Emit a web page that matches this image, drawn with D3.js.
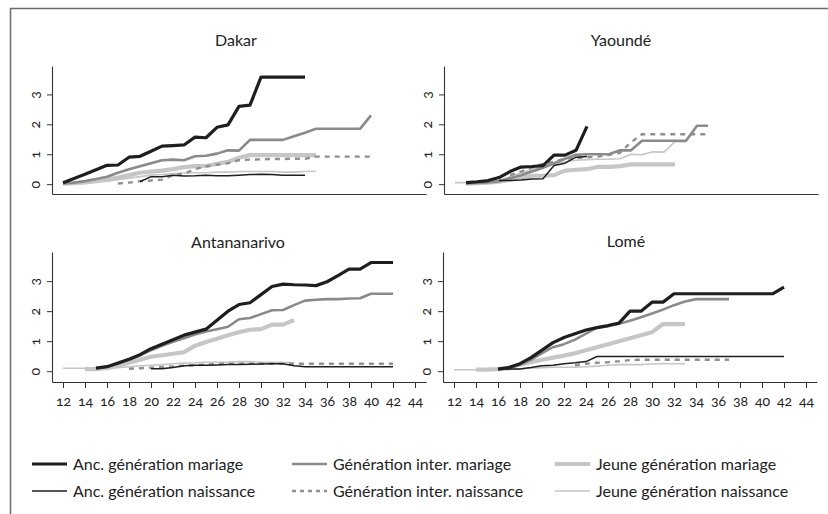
<!DOCTYPE html>
<html><head><meta charset="utf-8">
<script src="https://cdn.jsdelivr.net/npm/d3@7"></script>
<style>
body{margin:0;background:#fff}
svg{display:block}
text{font-family:Lato,"Open Sans",sans-serif;fill:#222}
.num{font-variant-numeric:oldstyle-nums;font-feature-settings:"onum" 1}
</style>
</head><body><svg id="c" width="828" height="514"></svg>
<script>
// ---------- DATA ----------
const cities = ["Dakar","Yaoundé","Antananarivo","Lomé"];
const seriesNames = ["Anc. génération mariage","Génération inter. mariage","Jeune génération mariage",
                     "Anc. génération naissance","Génération inter. naissance","Jeune génération naissance"];
const xTicks = [12,14,16,18,20,22,24,26,28,30,32,34,36,38,40,42,44];
const yTicks = [0,1,2,3];

// each series: first age, then one value per year of age
const dakarAncMarStart = 12;
const dakarAncMar = [0.05,0.19,0.33,0.48,0.63,0.64,0.9,0.93,1.1,1.27,1.29,1.31,1.57,1.55,1.9,1.98,2.6,2.64,3.58,3.58,3.58,3.58,3.58];
const dakarInterMarStart = 12;
const dakarInterMar = [0.02,0.05,0.1,0.17,0.25,0.38,0.5,0.6,0.7,0.8,0.82,0.8,0.93,0.95,1.02,1.13,1.12,1.48,1.48,1.48,1.48,1.6,1.72,1.85,1.85,1.85,1.85,1.85,2.3];
const dakarJeuneMarStart = 12;
const dakarJeuneMar = [0.02,0.03,0.06,0.1,0.15,0.22,0.3,0.38,0.42,0.45,0.5,0.57,0.6,0.6,0.68,0.75,0.88,0.97,0.97,0.97,0.97,0.97,0.97,0.97];
const dakarAncNaiStart = 19;
const dakarAncNai = [0.08,0.25,0.25,0.3,0.27,0.28,0.3,0.28,0.28,0.3,0.32,0.33,0.32,0.3,0.3,0.3];
const dakarInterNaiStart = 17;
const dakarInterNai = [0.02,0.05,0.1,0.12,0.15,0.3,0.35,0.5,0.6,0.65,0.7,0.8,0.82,0.83,0.84,0.84,0.85,0.85,0.92,0.92,0.92,0.92,0.92,0.92];
const dakarJeuneNaiStart = 12;
const dakarJeuneNai = [0.02,0.03,0.05,0.08,0.1,0.15,0.2,0.25,0.3,0.32,0.35,0.37,0.38,0.38,0.4,0.4,0.42,0.42,0.42,0.42,0.4,0.4,0.42,0.43];

const yaoAncMarStart = 13;
const yaoAncMar = [0.05,0.08,0.12,0.22,0.42,0.57,0.59,0.62,0.97,0.97,1.13,1.93];
const yaoInterMarStart = 13;
const yaoInterMar = [0.02,0.04,0.06,0.1,0.2,0.3,0.42,0.55,0.7,0.85,0.98,1.0,1.0,1.0,1.13,1.13,1.45,1.45,1.45,1.45,1.45,1.95,1.95];
const yaoJeuneMarStart = 13;
const yaoJeuneMar = [0.02,0.03,0.05,0.08,0.15,0.22,0.28,0.28,0.3,0.45,0.48,0.5,0.58,0.58,0.6,0.66,0.66,0.66,0.66,0.66];
const yaoAncNaiStart = 16;
const yaoAncNai = [0.12,0.12,0.14,0.17,0.18,0.62,0.7,0.9,0.92];
const yaoInterNaiStart = 17;
const yaoInterNai = [0.3,0.42,0.55,0.68,0.75,0.85,0.88,0.9,0.92,0.98,1.05,1.4,1.67,1.67,1.67,1.67,1.67,1.67,1.67];
const yaoJeuneNaiStart = 12;
const yaoJeuneNai = [0.05,0.05,0.06,0.08,0.12,0.25,0.38,0.48,0.6,0.68,0.75,0.8,0.82,0.83,0.83,0.85,1.0,0.98,1.08,1.07,1.42,1.42];

const tanaAncMarStart = 15;
const tanaAncMar = [0.1,0.15,0.27,0.4,0.55,0.75,0.9,1.05,1.2,1.3,1.4,1.7,2.0,2.22,2.28,2.55,2.82,2.9,2.88,2.87,2.85,2.98,3.18,3.4,3.4,3.62,3.62,3.62];
const tanaInterMarStart = 15;
const tanaInterMar = [0.1,0.15,0.25,0.38,0.52,0.7,0.85,0.98,1.1,1.22,1.32,1.4,1.48,1.73,1.77,1.9,2.03,2.04,2.2,2.35,2.38,2.4,2.4,2.42,2.43,2.58,2.58,2.58];
const tanaJeuneMarStart = 14;
const tanaJeuneMar = [0.07,0.07,0.1,0.18,0.28,0.38,0.48,0.53,0.58,0.63,0.85,0.97,1.08,1.2,1.3,1.38,1.4,1.55,1.55,1.7];
const tanaAncNaiStart = 20;
const tanaAncNai = [0.08,0.08,0.12,0.18,0.2,0.2,0.21,0.22,0.22,0.23,0.24,0.25,0.25,0.18,0.15,0.15,0.15,0.15,0.15,0.15,0.15,0.15,0.15];
const tanaInterNaiStart = 18;
const tanaInterNai = [0.08,0.1,0.12,0.14,0.16,0.18,0.2,0.22,0.24,0.25,0.25,0.25,0.25,0.25,0.25,0.25,0.25,0.25,0.25,0.25,0.25,0.25,0.25,0.25,0.25];
const tanaJeuneNaiStart = 12;
const tanaJeuneNai = [0.1,0.1,0.1,0.1,0.1,0.12,0.15,0.18,0.2,0.22,0.25,0.27,0.28,0.3,0.3,0.3,0.32,0.32,0.3,0.3,0.3,0.28];

const lomeAncMarStart = 16;
const lomeAncMar = [0.07,0.12,0.25,0.45,0.7,0.95,1.12,1.25,1.37,1.45,1.52,1.6,2.0,2.0,2.3,2.3,2.58,2.58,2.58,2.58,2.58,2.58,2.58,2.58,2.58,2.58,2.8];
const lomeInterMarStart = 16;
const lomeInterMar = [0.07,0.1,0.22,0.38,0.6,0.8,0.9,1.05,1.25,1.45,1.5,1.58,1.68,1.8,1.92,2.05,2.2,2.32,2.4,2.4,2.4,2.4];
const lomeJeuneMarStart = 14;
const lomeJeuneMar = [0.05,0.05,0.07,0.12,0.22,0.3,0.38,0.45,0.52,0.6,0.7,0.8,0.9,1.0,1.1,1.2,1.3,1.57,1.57,1.57];
const lomeAncNaiStart = 16;
const lomeAncNai = [0.07,0.07,0.07,0.12,0.18,0.2,0.25,0.28,0.32,0.49,0.49,0.49,0.49,0.49,0.49,0.49,0.49,0.49,0.49,0.49,0.49,0.49,0.49,0.49,0.49,0.49,0.49];
const lomeInterNaiStart = 23;
const lomeInterNai = [0.2,0.25,0.28,0.3,0.33,0.37,0.38,0.38,0.38,0.38,0.38,0.38,0.38,0.38,0.38];
const lomeJeuneNaiStart = 12;
const lomeJeuneNai = [0.05,0.05,0.05,0.05,0.05,0.05,0.08,0.1,0.12,0.13,0.13,0.13,0.15,0.17,0.2,0.22,0.22,0.22,0.24,0.25,0.25,0.25];

// ---------- STYLES ----------
const styles = [
  {color:"#1e1e1e", width:3.2, dash:null},   // Anc. mariage
  {color:"#8a8a8a", width:2.6, dash:null},   // Inter mariage
  {color:"#c6c6c6", width:4.2, dash:null},   // Jeune mariage
  {color:"#1e1e1e", width:1.5, dash:null},   // Anc. naissance
  {color:"#8f8f8f", width:2.4, dash:"5,5"},  // Inter naissance
  {color:"#c6c6c6", width:1.6, dash:null}    // Jeune naissance
];
const drawOrder = [2,5,4,1,3,0];

const cityData = [
  [[dakarAncMarStart,dakarAncMar],[dakarInterMarStart,dakarInterMar],[dakarJeuneMarStart,dakarJeuneMar],[dakarAncNaiStart,dakarAncNai],[dakarInterNaiStart,dakarInterNai],[dakarJeuneNaiStart,dakarJeuneNai]],
  [[yaoAncMarStart,yaoAncMar],[yaoInterMarStart,yaoInterMar],[yaoJeuneMarStart,yaoJeuneMar],[yaoAncNaiStart,yaoAncNai],[yaoInterNaiStart,yaoInterNai],[yaoJeuneNaiStart,yaoJeuneNai]],
  [[tanaAncMarStart,tanaAncMar],[tanaInterMarStart,tanaInterMar],[tanaJeuneMarStart,tanaJeuneMar],[tanaAncNaiStart,tanaAncNai],[tanaInterNaiStart,tanaInterNai],[tanaJeuneNaiStart,tanaJeuneNai]],
  [[lomeAncMarStart,lomeAncMar],[lomeInterMarStart,lomeInterMar],[lomeJeuneMarStart,lomeJeuneMar],[lomeAncNaiStart,lomeAncNai],[lomeInterNaiStart,lomeInterNai],[lomeJeuneNaiStart,lomeJeuneNai]]
];

// ---------- LAYOUT ----------
const panels = [
  {left:52,  top:66,  bottom:194, yMin:-0.33, yMax:3.95, xLabels:false, titleX:236, titleY:46},
  {left:444, top:66,  bottom:194, yMin:-0.33, yMax:3.95, xLabels:false, titleX:621, titleY:46},
  {left:52,  top:252, bottom:382, yMin:-0.36, yMax:3.97, xLabels:true,  titleX:238, titleY:248},
  {left:443, top:252, bottom:382, yMin:-0.36, yMax:3.97, xLabels:true,  titleX:626, titleY:247}
];

const svg = d3.select("#c");

// frame
svg.append("path").attr("d","M10.5,514 V8.5 H828")
  .attr("fill","none").attr("stroke","#6a6a6a").attr("stroke-width",1.5);

panels.forEach((p,i)=>{
  const x = d3.scaleLinear().domain([11,45]).range([p.left, p.left+374]);
  const y = d3.scaleLinear().domain([p.yMin,p.yMax]).range([p.bottom,p.top]);
  const g = svg.append("g");

  g.append("text").attr("x",p.titleX).attr("y",p.titleY).attr("text-anchor","middle")
    .attr("font-size",16).attr("fill","#2a2a2a").text(cities[i]);

  // y axis
  const ya = g.append("g").attr("transform",`translate(${p.left},0)`)
    .call(d3.axisLeft(y).tickValues(yTicks).tickSize(5).tickSizeOuter(0).tickFormat(d3.format("d")));
  ya.select(".domain").attr("stroke","#333").attr("stroke-width",1.1);
  ya.selectAll(".tick line").attr("stroke","#333");
  ya.selectAll(".tick text").attr("class","num").attr("font-size",14).attr("fill","#222")
    .attr("font-family","Lato")
    .attr("transform","rotate(-90)").attr("x",0).attr("y",-12).attr("dy",0)
    .attr("text-anchor","middle");

  // x axis
  const xa = g.append("g").attr("transform",`translate(0,${p.bottom})`)
    .call(d3.axisBottom(x).tickValues(p.xLabels ? xTicks : []).tickSize(6).tickSizeOuter(0).tickPadding(8));
  xa.select(".domain").attr("stroke","#333").attr("stroke-width",1.1);
  xa.selectAll(".tick line").attr("stroke","#333");
  xa.selectAll(".tick text").attr("class","num").attr("font-size",14).attr("fill","#222")
    .attr("font-family","Lato");

  const line = d3.line().x(d=>x(d[0])).y(d=>y(d[1]));
  drawOrder.forEach(s=>{
    const [start, vals] = cityData[i][s];
    const pts = vals.map((v,k)=>[start+k, v]);
    const st = styles[s];
    g.append("path").datum(pts).attr("d",line)
      .attr("fill","none").attr("stroke",st.color).attr("stroke-width",st.width)
      .attr("stroke-linejoin","round")
      .attr("stroke-dasharray",st.dash);
  });
});

// legend
const legendPos = [
  {x:32, y:464},{x:292, y:464},{x:555, y:464},
  {x:32, y:491},{x:292, y:491},{x:555, y:491}
];
seriesNames.forEach((name,s)=>{
  const lp = legendPos[s], st = styles[s];
  svg.append("line").attr("x1",lp.x).attr("x2",lp.x+35).attr("y1",lp.y).attr("y2",lp.y)
    .attr("stroke",st.color).attr("stroke-width",st.width).attr("stroke-dasharray",st.dash ? "4,4" : null);
  svg.append("text").attr("x",lp.x+41).attr("y",lp.y).attr("dy","0.35em")
    .attr("font-size",16).attr("fill","#222").text(name);
});
</script></body></html>
